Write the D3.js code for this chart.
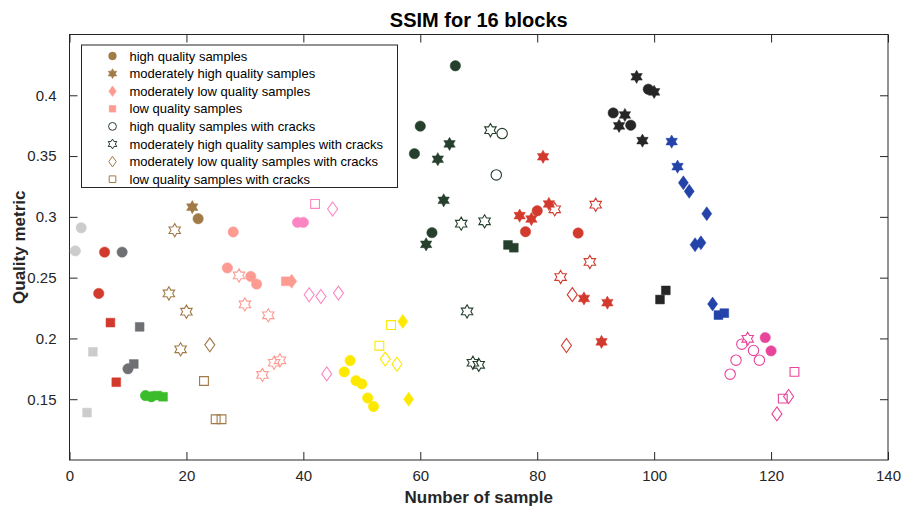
<!DOCTYPE html>
<html>
<head>
<meta charset="utf-8">
<script src="https://cdn.jsdelivr.net/npm/d3@7"></script>
<style>
  body { margin: 0; background: #fff; }
  svg { display: block; font-family: "Liberation Sans", Arial, Helvetica, sans-serif; }
</style>
</head>
<body>
<div id="scatter"></div>
<script>
// sample number, quality metric, marker kind
// kinds: H high, MH moderately high, ML moderately low, L low, *c = with cracks
const lightGraySamples = [[1, 0.272, "H"], [2, 0.291, "H"], [3, 0.139, "L"], [4, 0.189, "L"]];
const redSamplesA = [[5, 0.237, "H"], [6, 0.271, "H"], [7, 0.213, "L"], [8, 0.164, "L"]];
const darkGraySamples = [[9, 0.271, "H"], [10, 0.175, "H"], [11, 0.179, "L"], [12, 0.2095, "L"]];
const greenSamples = [[13, 0.153, "H"], [14, 0.152, "H"], [15, 0.153, "L"], [16, 0.152, "L"]];
const brownSamples = [
  [17, 0.237, "MHc"], [18, 0.289, "MHc"], [19, 0.191, "MHc"], [20, 0.222, "MHc"],
  [21, 0.308, "MH"], [22, 0.2985, "H"], [23, 0.165, "Lc"], [24, 0.1947, "MLc"],
  [25, 0.1335, "Lc"], [26, 0.1335, "Lc"],
];
const salmonSamples = [
  [27, 0.258, "H"], [28, 0.2876, "H"], [29, 0.2518, "MHc"], [30, 0.228, "MHc"],
  [31, 0.251, "H"], [32, 0.2447, "H"], [33, 0.17, "MHc"], [34, 0.219, "MHc"],
  [35, 0.18, "MHc"], [36, 0.182, "MHc"], [37, 0.247, "L"], [38, 0.247, "ML"],
];
const pinkSamples = [
  [39, 0.2955, "H"], [40, 0.2955, "H"], [41, 0.2359, "MLc"], [42, 0.3106, "Lc"],
  [43, 0.2345, "MLc"], [44, 0.1708, "MLc"], [45, 0.3065, "MLc"], [46, 0.2373, "MLc"],
];
const yellowSamples = [
  [47, 0.1725, "H"], [48, 0.1818, "H"], [49, 0.1653, "H"], [50, 0.1626, "H"],
  [51, 0.151, "H"], [52, 0.144, "H"], [53, 0.194, "Lc"], [54, 0.183, "MLc"],
  [55, 0.211, "Lc"], [56, 0.1788, "MLc"], [57, 0.214, "ML"], [58, 0.15, "ML"],
];
const darkGreenSamples = [
  [59, 0.352, "H"], [60, 0.3746, "H"], [61, 0.2774, "MH"], [62, 0.287, "H"],
  [63, 0.3474, "MH"], [64, 0.3136, "MH"], [65, 0.36, "MH"], [66, 0.4243, "H"],
  [67, 0.2944, "MHc"], [68, 0.2222, "MHc"], [69, 0.18, "MHc"], [70, 0.1783, "MHc"],
  [71, 0.2963, "MHc"], [72, 0.3713, "MHc"], [73, 0.3345, "Hc"], [74, 0.3685, "Hc"],
  [75, 0.2769, "L"], [76, 0.2746, "L"],
];
const redSamplesB = [
  [77, 0.301, "MH"], [78, 0.2878, "H"], [79, 0.2982, "MH"], [80, 0.305, "H"],
  [81, 0.3494, "MH"], [82, 0.3106, "MH"], [83, 0.3062, "MHc"], [84, 0.2505, "MHc"],
  [85, 0.1942, "MLc"], [86, 0.236, "MLc"], [87, 0.2867, "H"], [88, 0.2329, "MH"],
  [89, 0.2629, "MHc"], [90, 0.31, "MHc"], [91, 0.1972, "MH"], [92, 0.2294, "MH"],
];
const blackSamples = [
  [93, 0.3855, "H"], [94, 0.3748, "MH"], [95, 0.3838, "MH"], [96, 0.3754, "H"],
  [97, 0.4152, "MH"], [98, 0.3627, "MH"], [99, 0.405, "H"], [100, 0.4028, "MH"],
  [101, 0.232, "L"], [102, 0.2395, "L"],
];
const blueSamples = [
  [103, 0.3619, "MH"], [104, 0.3413, "MH"], [105, 0.328, "ML"], [106, 0.321, "ML"],
  [107, 0.2771, "ML"], [108, 0.2787, "ML"], [109, 0.3026, "ML"], [110, 0.2283, "ML"],
  [111, 0.2192, "L"], [112, 0.2208, "L"],
];
const magentaSamples = [
  [113, 0.1706, "Hc"], [114, 0.1821, "Hc"], [115, 0.1953, "Hc"], [116, 0.1997, "MHc"],
  [117, 0.1901, "Hc"], [118, 0.1821, "Hc"], [119, 0.2007, "H"], [120, 0.1898, "H"],
  [121, 0.1379, "MLc"], [122, 0.1505, "Lc"], [123, 0.1522, "MLc"], [124, 0.1725, "Lc"],
];

const legendKinds = ["H", "MH", "ML", "L", "Hc", "MHc", "MLc", "Lc"];
const legendLabels = [
  "high quality samples",
  "moderately high quality samples",
  "moderately low quality samples",
  "low quality samples",
  "high quality samples with cracks",
  "moderately high quality samples with cracks",
  "moderately low quality samples with cracks",
  "low quality samples with cracks",
];
const xTicks = [0, 20, 40, 60, 80, 100, 120, 140];
const yTicks = [0.15, 0.2, 0.25, 0.3, 0.35, 0.4];

const colors = {
  lightGray: "#cccccc",
  red: "#d23a2e",
  darkGray: "#6e7073",
  green: "#3bbd2b",
  brown: "#a17a46",
  salmon: "#fd9a92",
  pink: "#fc86c3",
  yellow: "#fde800",
  darkGreen: "#27402e",
  black: "#262626",
  blue: "#2343a9",
  magenta: "#e9449c",
};

const groups = [
  { data: lightGraySamples, color: colors.lightGray },
  { data: redSamplesA, color: colors.red },
  { data: darkGraySamples, color: colors.darkGray },
  { data: greenSamples, color: colors.green },
  { data: brownSamples, color: colors.brown },
  { data: salmonSamples, color: colors.salmon },
  { data: pinkSamples, color: colors.pink },
  { data: yellowSamples, color: colors.yellow },
  { data: darkGreenSamples, color: colors.darkGreen },
  { data: redSamplesB, color: colors.red },
  { data: blackSamples, color: colors.black },
  { data: blueSamples, color: colors.blue },
  { data: magentaSamples, color: colors.magenta },
];

const legendColors = [
  colors.brown, colors.brown, colors.salmon, colors.salmon,
  colors.darkGreen, colors.darkGreen, colors.brown, colors.brown,
];

function markerPath(kind, s) {
  const base = kind.replace("c", "");
  const p = d3.path();
  if (base === "H") {
    p.arc(0, 0, 5.2 * s, 0, 2 * Math.PI);
  } else if (base === "MH") {
    const R = 6.6 * s, r = R / Math.sqrt(3);
    for (let i = 0; i < 12; i++) {
      const a = -Math.PI / 2 + (i * Math.PI) / 6;
      const rad = i % 2 === 0 ? R : r;
      if (i === 0) p.moveTo(rad * Math.cos(a), rad * Math.sin(a));
      else p.lineTo(rad * Math.cos(a), rad * Math.sin(a));
    }
  } else if (base === "ML") {
    p.moveTo(0, -7 * s);
    p.lineTo(5 * s, 0);
    p.lineTo(0, 7 * s);
    p.lineTo(-5 * s, 0);
  } else {
    const h = 4.4 * s;
    p.rect(-h, -h, 2 * h, 2 * h);
  }
  p.closePath();
  return p.toString();
}

class ScatterPlot {
  constructor() {
    this.config = {
      parentElement: "#scatter",
      width: 902,
      height: 510,
      margin: { top: 34.5, right: 14, bottom: 50, left: 69.5 },
    };
    this.initVis();
  }

  initVis() {
    const vis = this;
    vis.width = vis.config.width - vis.config.margin.left - vis.config.margin.right;
    vis.height = vis.config.height - vis.config.margin.top - vis.config.margin.bottom;

    vis.root = d3.select(vis.config.parentElement)
      .append("svg")
      .attr("width", vis.config.width)
      .attr("height", vis.config.height);

    vis.root.append("rect")
      .attr("width", vis.config.width)
      .attr("height", vis.config.height)
      .attr("fill", "#fff");

    vis.svg = vis.root.append("g")
      .attr("transform", `translate(${vis.config.margin.left},${vis.config.margin.top})`);

    vis.xScale = d3.scaleLinear().domain([0, 140]).range([0, vis.width]);
    vis.yScale = d3.scaleLinear().domain([0.1, 0.45]).range([vis.height, 0]);

    const tickLen = 8;
    const axisColor = "#262626";

    const xAxis = d3.axisBottom(vis.xScale).tickValues(xTicks).tickSize(-tickLen).tickPadding(10);
    const xAxisTop = d3.axisTop(vis.xScale).tickValues(xTicks).tickSize(-tickLen).tickFormat("");
    const yAxis = d3.axisLeft(vis.yScale).tickValues(yTicks).tickSize(-tickLen).tickPadding(13)
      .tickFormat(d3.format(""));
    const yAxisRight = d3.axisRight(vis.yScale).tickValues(yTicks).tickSize(-tickLen).tickFormat("");

    const styleAxis = (g) => {
      g.select(".domain").remove();
      g.selectAll(".tick line").attr("stroke", axisColor);
      g.selectAll(".tick text")
        .attr("fill", axisColor)
        .style("font-size", "15px")
        .style("font-family", '"Liberation Sans", Arial, sans-serif');
    };

    vis.svg.append("g").attr("transform", `translate(0,${vis.height})`).call(xAxis).call(styleAxis);
    vis.svg.append("g").call(xAxisTop).call(styleAxis);
    vis.svg.append("g").call(yAxis).call(styleAxis);
    vis.svg.append("g").attr("transform", `translate(${vis.width},0)`).call(yAxisRight).call(styleAxis);

    vis.svg.append("rect")
      .attr("x", 0)
      .attr("y", 0)
      .attr("width", vis.width)
      .attr("height", vis.height)
      .attr("fill", "none")
      .attr("stroke", axisColor)
      .attr("stroke-width", 1);

    // title and axis labels
    vis.root.append("text")
      .attr("x", vis.config.margin.left + vis.width / 2)
      .attr("y", 27)
      .attr("text-anchor", "middle")
      .attr("font-weight", "bold")
      .attr("font-size", 20)
      .attr("fill", "#000")
      .text("SSIM for 16 blocks");

    vis.root.append("text")
      .attr("x", vis.config.margin.left + vis.width / 2)
      .attr("y", 503)
      .attr("text-anchor", "middle")
      .attr("font-weight", "bold")
      .attr("font-size", 17)
      .attr("fill", axisColor)
      .text("Number of sample");

    vis.root.append("text")
      .attr("transform", `translate(25,${vis.config.margin.top + vis.height / 2 + 0}) rotate(-90)`)
      .attr("text-anchor", "middle")
      .attr("font-weight", "bold")
      .attr("font-size", 17)
      .attr("fill", axisColor)
      .text("Quality metric");

    vis.updateVis();
  }

  updateVis() {
    const vis = this;

    const groupSel = vis.svg.selectAll(".group")
      .data(groups)
      .join("g")
      .attr("class", "group");

    groupSel.selectAll("path")
      .data((g) => g.data.map((d) => ({ x: d[0], y: d[1], kind: d[2], color: g.color })))
      .join("path")
      .attr("transform", (d) => `translate(${vis.xScale(d.x)},${vis.yScale(d.y)})`)
      .attr("d", (d) => markerPath(d.kind, 1))
      .attr("fill", (d) => (d.kind.endsWith("c") ? "none" : d.color))
      .attr("stroke", (d) => d.color)
      .attr("stroke-width", (d) => (d.kind.endsWith("c") ? 1.1 : 0.5));

    // legend
    const lx = 81.5 - vis.config.margin.left;
    const ly = 45 - vis.config.margin.top;
    const legend = vis.svg.append("g").attr("transform", `translate(${lx},${ly})`);

    legend.append("rect")
      .attr("width", 316)
      .attr("height", 142.5)
      .attr("fill", "#fff")
      .attr("stroke", "#262626")
      .attr("stroke-width", 1);

    const rows = legend.selectAll(".row")
      .data(legendKinds)
      .join("g")
      .attr("class", "row")
      .attr("transform", (d, i) => `translate(0,${11 + i * 17.6})`);

    rows.append("path")
      .attr("transform", "translate(31,0)")
      .attr("d", (d) => markerPath(d, 0.75))
      .attr("fill", (d, i) => (d.endsWith("c") ? "none" : legendColors[i]))
      .attr("stroke", (d, i) => legendColors[i])
      .attr("stroke-width", (d) => (d.endsWith("c") ? 1 : 0.5));

    rows.append("text")
      .attr("x", 48)
      .attr("y", 4.5)
      .attr("font-size", 13)
      .attr("fill", "#000")
      .text((d, i) => legendLabels[i]);
  }
}

new ScatterPlot();
</script>
</body>
</html>
